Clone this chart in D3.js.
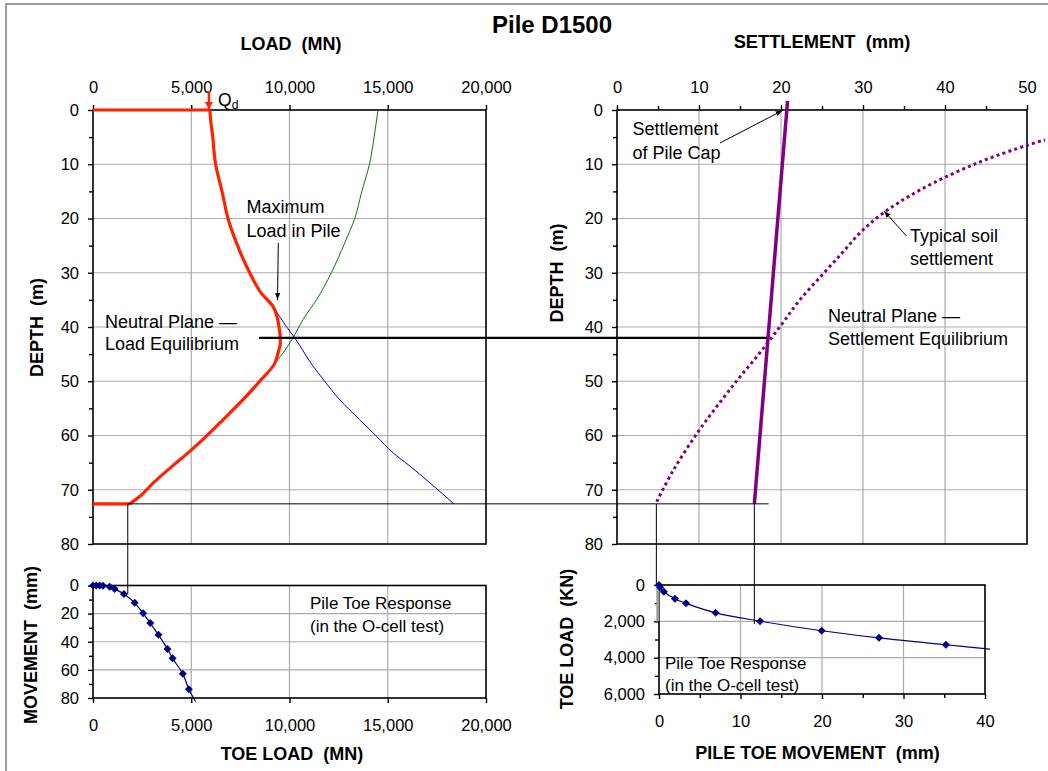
<!doctype html>
<meta charset="utf8">
<style>
  body { margin: 0; background: #fff; }
  svg { display: block; font-family: "Liberation Sans", Arial, sans-serif; }
  text { white-space: pre; }
</style>
<body>
<div id="chart"></div>
<script src="https://d3js.org/d3.v7.min.js"></script>
<script>
(function() {

// [load (MN), depth (m)]
const pileLoad = [[0, 0], [5950, 0], [5990, 2], [6075, 4.3], [6230, 9.8], [6585, 15.3], [6870, 20],
  [7300, 24.5], [7975, 30], [8570, 33.8], [9160, 36.2], [9465, 39.9], [9535, 43], [9415, 44.8],
  [9250, 46.7], [8485, 50], [7635, 53.4], [6615, 57.1], [5770, 60.1], [4835, 63.2], [4050, 65.6],
  [3080, 68.7], [2420, 71.1], [1870, 72.6], [0, 72.6]];
const resistance = [[14505, 0], [14335, 4.3], [14080, 9.8], [13660, 15.3], [13320, 20], [12810, 24.5],
  [12130, 30], [11370, 35], [10690, 38.6], [10180, 42], [9670, 44.8], [9250, 46.7], [8485, 50],
  [7635, 53.4], [6615, 57.1], [5770, 60.1], [4835, 63.2], [4050, 65.6], [3080, 68.7], [2420, 71.1],
  [1870, 72.6]];
const loadBelowMax = [[9160, 36.2], [9840, 39.9], [10265, 42], [11195, 47.2], [11790, 50], [12555, 53.4],
  [13570, 57.1], [14420, 60.1], [15270, 63.2], [16115, 65.6], [17135, 68.7], [18370, 72.6]];

// [settlement (mm), depth (m)]
const pileSettlement = [[20.8, -1.7], [16.75, 72.6]];
const soilSettlement = [[4.84, 72.2], [6.87, 66.4], [9.9, 59.3], [12.6, 53.8], [15, 49.2], [17.4, 44.8],
  [19.9, 39.9], [22.3, 35], [25.2, 30.1], [27.6, 26.1], [29.6, 22.7], [32.1, 19.4], [37, 14.7],
  [43.9, 9.8], [50, 6.5], [52.2, 5.5]];

// toe response: [toe load (MN), movement (mm)]
const toeLoadMovement = [[0, 0], [170, 0], [340, 0], [510, 0.1], [850, 0.9], [1100, 2.5], [1575, 6],
  [2120, 12.3], [2550, 19.8], [2915, 26.7], [3330, 35.1], [3790, 45.1], [4050, 51.8], [4570, 62.8],
  [4880, 73.8]];
const toeLoadTrendEnd = [5220, 82.5];
// toe response: [movement (mm), toe load (KN)]
const toeMovementLoad = [[0, 0], [0.12, 130], [0.6, 370], [1.96, 760], [3.31, 1010], [6.95, 1530],
  [12.4, 1990], [19.96, 2520], [27, 2910], [35.2, 3290]];
const toeMovementTrendEnd = [40.6, 3530];

const LOAD_TICKS = [0, 5000, 10000, 15000, 20000];
const DEPTH_TICKS = [0, 10, 20, 30, 40, 50, 60, 70, 80];
const DEPTH_MINOR = [5, 15, 25, 35, 45, 55, 65, 75];
const SETTLE_TICKS = [0, 10, 20, 30, 40, 50];
const SETTLE_MINOR = [5, 15, 25, 35, 45];
const MOVE_TICKS = [0, 20, 40, 60, 80];
const MOVE_MINOR = [10, 30, 50, 70];
const PTM_TICKS = [0, 10, 20, 30, 40];
const PTM_MINOR = [5, 15, 25, 35];
const TOE_KN_TICKS = [0, 2000, 4000, 6000];
const TOE_KN_MINOR = [1000, 3000, 5000];

const QD = 5950;
const NEUTRAL_DEPTH = 42;
const TOE_DEPTH = 72.6;
const TOE_LOAD_AT_TOE = 1770;
const TOE_MOVE_AT_TOE = 6;

const W = 1048, H = 771;
const GRID = "#ababab";
const PURPLE = "#800080";
const NAVY = "#000080";
const fmt = d3.format(",");

const xLoad = d3.scaleLinear([0, 20000], [93, 486]);
const yDepth = d3.scaleLinear([0, 80], [110, 544]);
const xSettle = d3.scaleLinear([0, 50], [617, 1027]);
const yMove = d3.scaleLinear([0, 80], [585.5, 698]);
const xPtm = d3.scaleLinear([0, 40], [659, 985]);
const yToeKN = d3.scaleLinear([0, 6000], [585, 694]);

const svg = d3.select("#chart").append("svg")
  .attr("width", W)
  .attr("height", H);

const defs = svg.append("defs");
function arrowMarker(id, color, len, wid) {
  defs.append("marker")
    .attr("id", id)
    .attr("markerUnits", "userSpaceOnUse")
    .attr("viewBox", `0 0 ${len} ${wid}`)
    .attr("refX", len).attr("refY", wid / 2)
    .attr("markerWidth", len).attr("markerHeight", wid)
    .attr("orient", "auto")
    .append("path")
      .attr("d", `M0,0L${len},${wid / 2}L0,${wid}Z`)
      .attr("fill", color);
}
arrowMarker("arrow", "#000", 7, 5);
arrowMarker("arrowRed", "#ff2200", 7, 8);

// outer frame
svg.append("path")
  .attr("d", `M6,${H}V4H${W}`)
  .attr("fill", "none")
  .attr("stroke", "#808080")
  .attr("stroke-width", 1.5);

function panel(x, y, o) {
  const g = svg.append("g");
  const [x0, x1] = x.range();
  const [y0, y1] = y.range();

  g.selectAll(".gx").data(o.xGrid).enter().append("line")
    .attr("x1", x).attr("x2", x).attr("y1", y0).attr("y2", y1)
    .attr("stroke", GRID).attr("stroke-width", 1.2);
  g.selectAll(".gy").data(o.yGrid).enter().append("line")
    .attr("y1", y).attr("y2", y).attr("x1", x0).attr("x2", x1)
    .attr("stroke", GRID).attr("stroke-width", 1.2);

  g.append("rect")
    .attr("x", x0).attr("y", y0)
    .attr("width", x1 - x0).attr("height", y1 - y0)
    .attr("fill", "none").attr("stroke", "#000").attr("stroke-width", 1.6);

  const top = o.xSide === "top";
  const xa = (top ? d3.axisTop(x) : d3.axisBottom(x))
    .tickValues(o.xTicks).tickSize(5).tickPadding(top ? 12 : 16).tickFormat(fmt);
  g.append("g")
    .attr("transform", `translate(0,${top ? y0 : y1})`)
    .call(xa);
  if (o.xMinor) {
    g.append("g")
      .attr("transform", `translate(0,${top ? y0 : y1})`)
      .call((top ? d3.axisTop(x) : d3.axisBottom(x)).tickValues(o.xMinor).tickSize(4).tickFormat(""));
  }
  g.append("g")
    .attr("transform", `translate(${x0},0)`)
    .call(d3.axisLeft(y).tickValues(o.yTicks).tickSize(5).tickPadding(9).tickFormat(fmt));
  g.append("g")
    .attr("transform", `translate(${x0},0)`)
    .call(d3.axisLeft(y).tickValues(o.yMinor).tickSize(4).tickFormat(""));

  g.selectAll(".domain").remove();
  g.selectAll(".tick line").attr("stroke", "#000").attr("stroke-width", 1.4);
  g.selectAll(".tick text")
    .attr("font-size", 16.5)
    .attr("font-family", "Liberation Sans, Arial, sans-serif")
    .attr("fill", "#000");
  return g;
}

panel(xLoad, yDepth, {
  xTicks: LOAD_TICKS, yTicks: DEPTH_TICKS, yMinor: DEPTH_MINOR, xSide: "top",
  xGrid: [5000, 10000, 15000], yGrid: [10, 20, 30, 40, 50, 60, 70],
});
panel(xSettle, yDepth, {
  xTicks: SETTLE_TICKS, xMinor: SETTLE_MINOR, yTicks: DEPTH_TICKS, yMinor: DEPTH_MINOR, xSide: "top",
  xGrid: [10, 20, 30, 40], yGrid: [10, 20, 30, 40, 50, 60, 70],
});
panel(xLoad, yMove, {
  xTicks: LOAD_TICKS, yTicks: MOVE_TICKS, yMinor: MOVE_MINOR, xSide: "bottom",
  xGrid: [5000, 10000, 15000], yGrid: [20, 40, 60],
});
panel(xPtm, yToeKN, {
  xTicks: PTM_TICKS, xMinor: PTM_MINOR, yTicks: TOE_KN_TICKS, yMinor: TOE_KN_MINOR, xSide: "bottom",
  xGrid: [10, 20, 30], yGrid: [2000, 4000],
});

// load curves
const loadCurve = d3.line().x(d => xLoad(d[0])).y(d => yDepth(d[1])).curve(d3.curveMonotoneY);
const loadStraight = d3.line().x(d => xLoad(d[0])).y(d => yDepth(d[1]));
svg.append("path").datum(resistance)
  .attr("d", loadCurve).attr("fill", "none").attr("stroke", "#008000").attr("stroke-width", 1);
svg.append("path").datum(loadBelowMax)
  .attr("d", loadCurve).attr("fill", "none").attr("stroke", "#0000cc").attr("stroke-width", 1);
const n = pileLoad.length;
svg.append("path")
  .attr("d", loadStraight(pileLoad.slice(0, 2)) + loadCurve(pileLoad.slice(1, n - 1)) +
    loadStraight(pileLoad.slice(n - 2)))
  .attr("fill", "none").attr("stroke", "#ff2200").attr("stroke-width", 3.2)
  .attr("stroke-linejoin", "round");

// settlement curves
svg.append("path").datum(soilSettlement)
  .attr("d", d3.line().x(d => xSettle(d[0])).y(d => yDepth(d[1])).curve(d3.curveCatmullRom))
  .attr("fill", "none").attr("stroke", PURPLE).attr("stroke-width", 3)
  .attr("stroke-dasharray", "3 3.2");
svg.append("path").datum(pileSettlement)
  .attr("d", d3.line().x(d => xSettle(d[0])).y(d => yDepth(d[1])))
  .attr("fill", "none").attr("stroke", PURPLE).attr("stroke-width", 3.5);

// connector lines
const yToe = yDepth(TOE_DEPTH);
svg.append("line")
  .attr("x1", xLoad(TOE_LOAD_AT_TOE)).attr("x2", xSettle(18.5))
  .attr("y1", yToe).attr("y2", yToe)
  .attr("stroke", "#000").attr("stroke-width", 1);
svg.append("line")
  .attr("x1", xLoad(8450)).attr("x2", xSettle(18.3))
  .attr("y1", yDepth(NEUTRAL_DEPTH)).attr("y2", yDepth(NEUTRAL_DEPTH))
  .attr("stroke", "#000").attr("stroke-width", 2.2);
svg.append("line")
  .attr("x1", xLoad(TOE_LOAD_AT_TOE)).attr("x2", xLoad(TOE_LOAD_AT_TOE))
  .attr("y1", yToe).attr("y2", yMove(TOE_MOVE_AT_TOE))
  .attr("stroke", "#000").attr("stroke-width", 1);
svg.append("line")
  .attr("x1", xSettle(4.8)).attr("x2", xSettle(4.8))
  .attr("y1", yToe).attr("y2", yToeKN(0))
  .attr("stroke", "#000").attr("stroke-width", 1);
svg.append("rect")
  .attr("x", xSettle(4.8)).attr("y", yToeKN(100))
  .attr("width", 3).attr("height", yToeKN(2000) - yToeKN(100))
  .attr("fill", "#9a9a9a");
svg.append("line")
  .attr("x1", xSettle(16.75)).attr("x2", xSettle(16.75))
  .attr("y1", yToe).attr("y2", yToeKN(2150))
  .attr("stroke", "#000").attr("stroke-width", 1);

// toe response curves
const diamond = "M0,-4L4,0L0,4L-4,0Z";
svg.append("path").datum(toeLoadMovement.concat([toeLoadTrendEnd]))
  .attr("d", d3.line().x(d => xLoad(d[0])).y(d => yMove(d[1])).curve(d3.curveCatmullRom))
  .attr("fill", "none").attr("stroke", NAVY).attr("stroke-width", 1.2);
svg.selectAll(".mk1").data(toeLoadMovement).enter().append("path")
  .attr("d", diamond)
  .attr("transform", d => `translate(${xLoad(d[0])},${yMove(d[1])})`)
  .attr("fill", NAVY);
svg.append("path").datum(toeMovementLoad.concat([toeMovementTrendEnd]))
  .attr("d", d3.line().x(d => xPtm(d[0])).y(d => yToeKN(d[1])).curve(d3.curveCatmullRom))
  .attr("fill", "none").attr("stroke", NAVY).attr("stroke-width", 1.2);
svg.selectAll(".mk2").data(toeMovementLoad).enter().append("path")
  .attr("d", diamond)
  .attr("transform", d => `translate(${xPtm(d[0])},${yToeKN(d[1])})`)
  .attr("fill", NAVY);

// Qd arrow
svg.append("line")
  .attr("x1", xLoad(QD) - 1).attr("x2", xLoad(QD) - 1)
  .attr("y1", 91).attr("y2", yDepth(0) - 1)
  .attr("stroke", "#ff2200").attr("stroke-width", 2.5)
  .attr("marker-end", "url(#arrowRed)");
const qd = svg.append("text")
  .attr("x", 218).attr("y", 106)
  .attr("font-size", 17.5);
qd.append("tspan").text("Q");
qd.append("tspan").attr("font-size", 12).attr("dy", 3).text("d");

// annotation arrows
function arrow(x1, y1, x2, y2) {
  svg.append("line")
    .attr("x1", x1).attr("y1", y1).attr("x2", x2).attr("y2", y2)
    .attr("stroke", "#000").attr("stroke-width", 1)
    .attr("marker-end", "url(#arrow)");
}
arrow(278.3, 243, 277.5, 300);
arrow(720, 143, 782.5, 110.5);
arrow(906.5, 236, 884, 211);

function label(x, y, lines, size) {
  lines.forEach((t, i) => {
    svg.append("text")
      .attr("x", x).attr("y", y[i])
      .attr("font-size", size)
      .text(t);
  });
}
label(246.5, [213, 236.5], ["Maximum", "Load in Pile"], 18);
label(105, [327.5, 350], ["Neutral Plane \u2014", "Load Equilibrium"], 18);
label(632.5, [135, 158.5], ["Settlement", "of Pile Cap"], 18);
label(910, [241.5, 265], ["Typical soil", "settlement"], 18);
label(828, [321.5, 345], ["Neutral Plane \u2014", "Settlement Equilibrium"], 18);
label(310, [609, 631.5], ["Pile Toe Response", "(in the O-cell test)"], 17);
label(665, [669, 690.5], ["Pile Toe Response", "(in the O-cell test)"], 17);

// titles
function title(x, y, t, size, rotate) {
  svg.append("text")
    .attr("transform", `translate(${x},${y})` + (rotate ? " rotate(-90)" : ""))
    .attr("text-anchor", "middle")
    .attr("font-weight", "bold")
    .attr("font-size", size)
    .text(t);
}
title(552, 33, "Pile D1500", 24);
title(291, 50, "LOAD  (MN)", 18);
title(822, 48, "SETTLEMENT  (mm)", 18.3);
title(292, 760, "TOE LOAD  (MN)", 18);
title(817.5, 759, "PILE TOE MOVEMENT  (mm)", 18);
title(43, 327.5, "DEPTH  (m)", 18, true);
title(563, 273, "DEPTH  (m)", 18, true);
title(37, 645, "MOVEMENT  (mm)", 18, true);
title(573, 639, "TOE LOAD  (KN)", 18, true);

})();
</script>
